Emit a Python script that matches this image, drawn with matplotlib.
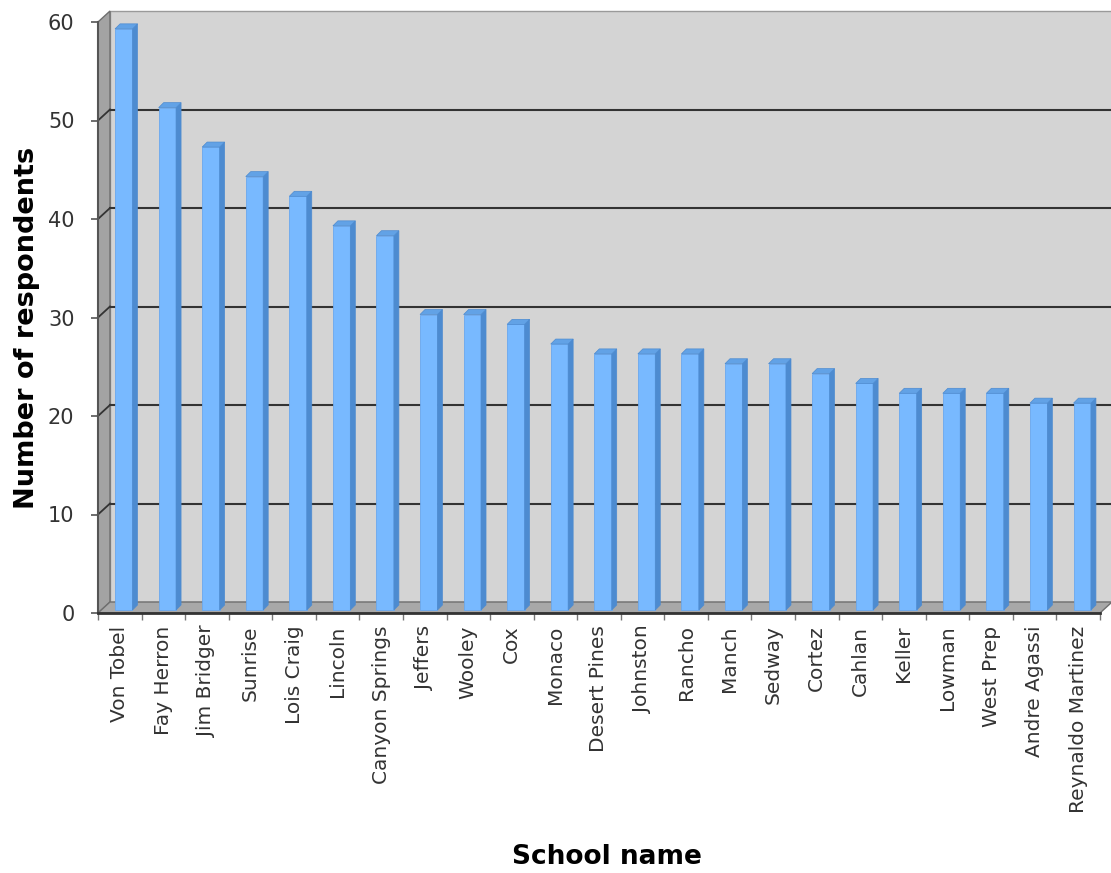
import matplotlib
matplotlib.use("Agg")
import matplotlib.pyplot as plt
from matplotlib.patches import Polygon, Rectangle
from matplotlib.transforms import offset_copy, IdentityTransform
import numpy as np

schools = ["Von Tobel", "Fay Herron", "Jim Bridger", "Sunrise", "Lois Craig",
           "Lincoln", "Canyon Springs", "Jeffers", "Wooley", "Cox", "Monaco",
           "Desert Pines", "Johnston", "Rancho", "Manch", "Sedway", "Cortez",
           "Cahlan", "Keller", "Lowman", "West Prep", "Andre Agassi",
           "Reynaldo Martinez"]
respondents = [59, 51, 47, 44, 42, 39, 38, 30, 30, 29, 27, 26, 26, 26, 25,
               25, 24, 23, 22, 22, 22, 21, 21]
yticks = [0, 10, 20, 30, 40, 50, 60]

W, H = 1111, 873
fig = plt.figure(figsize=(W / 100, H / 100), dpi=100)
# front plane of the 3d box, in pixels
left, right, bottom, top = 98, 1100, 613, 22
ax = fig.add_axes([left / W, 1 - bottom / H, (right - left) / W, (bottom - top) / H])
n = len(schools)
ax.set_xlim(0, n)
ax.set_ylim(0, 60)
ax.patch.set_visible(False)

# depth of the box (pixels)
DX, DY = 12, 11
back = offset_copy(ax.transData, fig=fig, x=DX, y=DY, units='dots')
to_px = ax.transData.transform
ident = IdentityTransform()

# back wall
ax.add_patch(Rectangle((0, 0), n, 60, transform=back, facecolor='#d4d4d4',
                       edgecolor='#9a9a9a', lw=1, clip_on=False, zorder=0))

# left wall and floor
p00 = to_px((0, 0)); p060 = to_px((0, 60)); pn0 = to_px((n, 0))
wall = [p00, p060, p060 + [DX, DY], p00 + [DX, DY]]
ax.add_patch(Polygon(wall, closed=True, transform=ident, facecolor='#a3a3a3',
                     edgecolor='#6f6f6f', lw=1, clip_on=False, zorder=0.5))
floor = [p00, pn0, pn0 + [DX, DY], p00 + [DX, DY]]
ax.add_patch(Polygon(floor, closed=True, transform=ident, facecolor='#a8a8a8',
                     edgecolor='#6f6f6f', lw=1, clip_on=False, zorder=0.6))
ax.plot([p00[0], pn0[0]], [p00[1], pn0[1]], transform=ident, color='#333333',
        lw=2, clip_on=False, zorder=5)

# gridlines on back wall and the slanted ones across the left wall
for v in yticks[1:-1]:
    ax.plot([0, n], [v, v], transform=back, color='#333333', lw=1.5,
            clip_on=False, zorder=1)
    a = to_px((0, v))
    ax.plot([a[0], a[0] + DX], [a[1], a[1] + DY], transform=ident,
            color='#333333', lw=1.3, clip_on=False, zorder=1)

# bars
x = np.arange(n) + 0.5
bw = 0.40
bdx, bdy = 4, 3   # bar position inside the box
dd = 5            # bar depth
front = offset_copy(ax.transData, fig=fig, x=bdx, y=bdy, units='dots')
ax.bar(x, respondents, width=bw, transform=front, color='#78b9ff',
       edgecolor='#6aa8ee', lw=0.6, clip_on=False, zorder=3)
for xi, v in zip(x, respondents):
    br = to_px((xi + bw / 2, 0)) + [bdx, bdy]
    tl = to_px((xi - bw / 2, v)) + [bdx, bdy]
    tr = to_px((xi + bw / 2, v)) + [bdx, bdy]
    side = [br, br + [dd, dd], tr + [dd, dd], tr]
    topf = [tl, tr, tr + [dd, dd], tl + [dd, dd]]
    ax.add_patch(Polygon(side, closed=True, transform=ident, facecolor='#4d8bd0',
                         edgecolor='#4d8bd0', lw=0.5, clip_on=False, zorder=3))
    ax.add_patch(Polygon(topf, closed=True, transform=ident, facecolor='#62a2e6',
                         edgecolor='#4d8bd0', lw=0.5, clip_on=False, zorder=3))

# axes, ticks
for s in ['top', 'right', 'bottom']:
    ax.spines[s].set_visible(False)
ax.spines['left'].set_color('#555555')
ax.spines['left'].set_linewidth(1.5)
ax.spines['left'].set_zorder(4)
ax.set_yticks(yticks)
ax.tick_params(axis='y', length=5, width=1.2, color='#555555', pad=12,
               labelsize=15, labelcolor='#333333')
ax.set_xticks(np.arange(n + 1))
ax.set_xticklabels([])
ax.tick_params(axis='x', which='major', length=5, width=1, color='#777777')
ax.set_xticks(x, minor=True)
ax.set_xticklabels(schools, minor=True, rotation=90, fontsize=14.5, color='#333333')
ax.tick_params(axis='x', which='minor', length=0, pad=9)

fig.text(27 / W, 1 - 328 / H, "Number of respondents", rotation=90,
         ha='center', va='center', fontsize=19.5, fontweight='bold')
fig.text(607 / W, 1 - 857 / H, "School name", ha='center', va='center',
         fontsize=19, fontweight='bold')

fig.savefig("out.png", dpi=100)
